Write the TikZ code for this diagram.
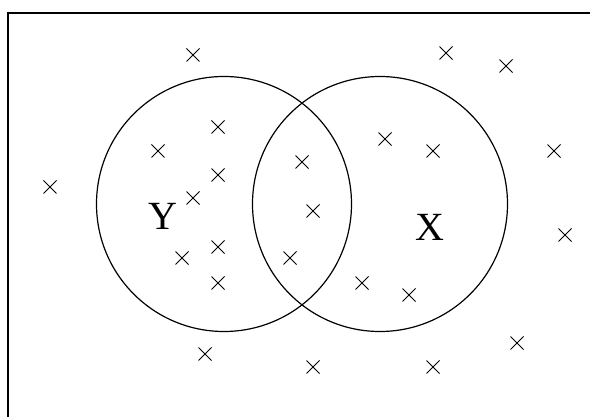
\documentclass[tikz,border=0pt]{standalone}
\usepackage{fontspec}
\setmainfont{Liberation Serif}
\usetikzlibrary{shapes.misc}

\begin{document}
\begin{tikzpicture}[x=0.5pt,y=-0.5pt,
    pt/.style={cross out,draw,line width=0.5pt,minimum size=6pt,inner sep=0pt},
    set/.style={circle,draw,line width=0.6pt,minimum size=127.5pt,inner sep=0pt},
    setname/.style={font=\fontsize{20}{24}\selectfont}]
    \useasboundingbox (0,0) rectangle (590,417);
    \draw[line width=0.75pt] (8,13) rectangle (600,430);
    \node[set] (Y) at (224,204) {};
    \node[set] (X) at (380,204) {};
    \node[setname] (ly) at (163,216) {Y};
    \node[setname] (lx) at (430,227) {X};
    % sample points
    \foreach \px/\py [count=\i] in {193/55,446/53,506/66,218/127,158/151,385/139,433/151,554/151,
        302/162,218/175,50/187,193/198,313/211,565/235,218/247,182/258,290/258,218/283,
        362/283,409/295,517/343,205/354,313/367,433/367}
      \node[pt] (p\i) at (\px,\py) {};
\end{tikzpicture}
\end{document}
